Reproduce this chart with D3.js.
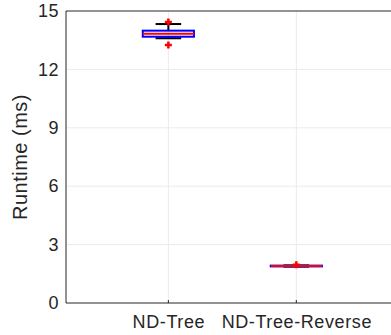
<!DOCTYPE html>
<html>
<head>
<meta charset="utf-8">
<script src="https://cdn.jsdelivr.net/npm/d3@7"></script>
<style>
  body { margin: 0; background: #fff; }
  text { font-family: "Liberation Sans", Arial, sans-serif; fill: #262626; }
</style>
</head>
<body>
<svg id="chart" width="391" height="335"></svg>
<script>
// categories and box statistics
var categories = ["ND-Tree", "ND-Tree-Reverse"];
var whiskerLow = [13.60, 1.87];
var q1 = [13.68, 1.88];
var median = [13.83, 1.90];
var q3 = [13.99, 1.92];
var whiskerHigh = [14.33, 1.93];
var outliers = [[14.43, 13.25], [1.97]];
var yTicks = [0, 3, 6, 9, 12, 15];

var margin = {top: 11, right: 0, bottom: 32, left: 66},
    width = 391 - margin.left - margin.right,
    height = 335 - margin.top - margin.bottom;

var svg = d3.select("#chart");
var g = svg.append("g").attr("transform", "translate(" + margin.left + "," + margin.top + ")");

// x positions are 1, 2 in data units; plot spans 0.2 .. 2.74
var x = d3.scaleLinear().domain([0.2, 2.74]).range([0, width]);
var y = d3.scaleLinear().domain([0, 15]).range([height, 0]);

// grid
g.selectAll(".hgrid").data(yTicks.slice(1, -1)).enter()
  .append("line")
    .attr("x1", 0).attr("x2", width)
    .attr("y1", function(d) { return y(d); })
    .attr("y2", function(d) { return y(d); })
    .attr("stroke", "#ebebeb").attr("stroke-width", 1);
g.selectAll(".vgrid").data(categories).enter()
  .append("line")
    .attr("x1", function(d, i) { return x(i + 1); })
    .attr("x2", function(d, i) { return x(i + 1); })
    .attr("y1", 0).attr("y2", height)
    .attr("stroke", "#ebebeb").attr("stroke-width", 1);

// axes
var yAxis = d3.axisLeft(y).tickValues(yTicks).tickSize(0).tickPadding(7);
var gy = g.append("g").call(yAxis);
gy.select(".domain").remove();
gy.selectAll("text").style("font-size", "18px").style("letter-spacing", "0.5px").attr("fill", "#262626");

var xAxis = d3.axisBottom(x).tickValues([1, 2])
  .tickFormat(function(d) { return categories[d - 1]; })
  .tickSize(0).tickPadding(12);
var gx = g.append("g").attr("transform", "translate(0," + height + ")").call(xAxis);
gx.select(".domain").remove();
gx.selectAll("text").style("font-size", "18px").style("letter-spacing", "0.6px").attr("fill", "#262626");

// small tick marks
g.selectAll(".xt").data([1, 2]).enter().append("line")
  .attr("x1", function(d) { return x(d); }).attr("x2", function(d) { return x(d); })
  .attr("y1", height).attr("y2", height - 3).attr("stroke", "#262626");

// frame (left, top, bottom)
g.append("path")
  .attr("d", "M" + width + ",0H0V" + height + "H" + width)
  .attr("fill", "none").attr("stroke", "#262626").attr("stroke-width", 1);

svg.append("text")
  .attr("transform", "translate(27," + (margin.top + height / 2) + ") rotate(-90)")
  .attr("text-anchor", "middle")
  .style("font-size", "20px")
  .style("letter-spacing", "0.5px")
  .text("Runtime (ms)");

// boxes
var boxW = x(1.4) - x(1), capW = x(1.2) - x(1);
var boxes = g.selectAll(".box").data(categories).enter().append("g")
  .attr("transform", function(d, i) { return "translate(" + x(i + 1) + ",0)"; });

boxes.append("line")
  .attr("y1", function(d, i) { return y(q3[i]); })
  .attr("y2", function(d, i) { return y(whiskerHigh[i]); })
  .attr("stroke", "#000").attr("stroke-width", 2);
boxes.append("line")
  .attr("y1", function(d, i) { return y(q1[i]); })
  .attr("y2", function(d, i) { return y(whiskerLow[i]); })
  .attr("stroke", "#000").attr("stroke-width", 2);
boxes.append("line")
  .attr("x1", -capW / 2).attr("x2", capW / 2)
  .attr("y1", function(d, i) { return y(whiskerHigh[i]); })
  .attr("y2", function(d, i) { return y(whiskerHigh[i]); })
  .attr("stroke", "#000").attr("stroke-width", 2);
boxes.append("line")
  .attr("x1", -capW / 2).attr("x2", capW / 2)
  .attr("y1", function(d, i) { return y(whiskerLow[i]); })
  .attr("y2", function(d, i) { return y(whiskerLow[i]); })
  .attr("stroke", "#000").attr("stroke-width", 2);
boxes.append("rect")
  .attr("x", -boxW / 2).attr("width", boxW)
  .attr("y", function(d, i) { return y(q3[i]); })
  .attr("height", function(d, i) { return y(q1[i]) - y(q3[i]); })
  .attr("fill", "none").attr("stroke", "#0000ff").attr("stroke-width", 2);
boxes.append("line")
  .attr("x1", -boxW / 2).attr("x2", boxW / 2)
  .attr("y1", function(d, i) { return y(median[i]); })
  .attr("y2", function(d, i) { return y(median[i]); })
  .attr("stroke", "#ff0000").attr("stroke-width", 2);

// outliers as red plus signs
boxes.each(function(d, i) {
  d3.select(this).selectAll(".out").data(outliers[i]).enter()
    .append("path")
      .attr("d", function(v) { var cy = y(v); return "M-3.5," + cy + "H3.5M0," + (cy - 3.5) + "V" + (cy + 3.5); })
      .attr("stroke", "#ff0000").attr("stroke-width", 2.5);
});
</script>
</body>
</html>
